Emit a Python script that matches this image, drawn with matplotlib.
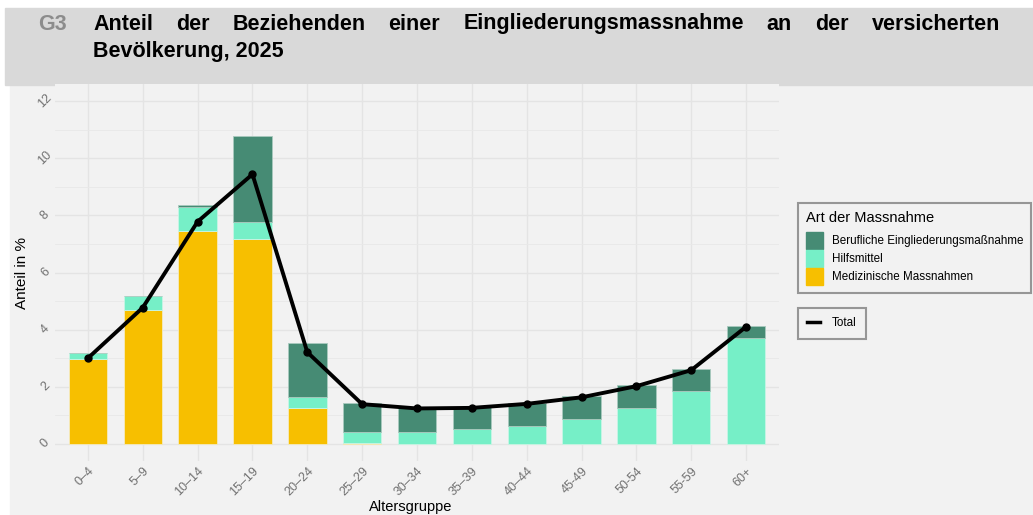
import matplotlib.pyplot as plt
import matplotlib.patches as mpatches
from matplotlib.lines import Line2D
import numpy as np

# Daten
altersgruppen = ['0–4', '5–9', '10–14', '15–19', '20–24', '25–29', '30–34',
                 '35–39', '40–44', '45-49', '50-54', '55-59', '60+']
medizinisch = [2.98, 4.68, 7.45, 7.16, 1.25, 0.02, 0.0, 0.0, 0.0, 0.0, 0.0, 0.0, 0.0]
hilfsmittel = [0.19, 0.51, 0.85, 0.61, 0.39, 0.39, 0.43, 0.51, 0.63, 0.86, 1.25, 1.85, 3.70]
beruflich = [0.0, 0.0, 0.05, 3.01, 1.90, 1.01, 0.82, 0.77, 0.79, 0.82, 0.80, 0.76, 0.43]
total = [3.00, 4.77, 7.78, 9.44, 3.21, 1.39, 1.24, 1.26, 1.40, 1.63, 2.02, 2.58, 4.10]

legend_titel = 'Art der Massnahme'
serien_namen = ['Berufliche Eingliederungsmaßnahme', 'Hilfsmittel', 'Medizinische Massnahmen']
farben = {'beruflich': '#468B74', 'hilfsmittel': '#76EFC7', 'medizinisch': '#F7BF00'}

titel_z1 = 'Anteil der Beziehenden einer Eingliederungsmassnahme an der versicherten'
titel_z2 = 'Bevölkerung, 2025'

W, H = 1033, 515
fig = plt.figure(figsize=(W / 100, H / 100), dpi=100, facecolor='white')

def px(x, y):
    # Pixel (von oben links) -> Figurkoordinaten
    return x / W, 1 - y / H

# Hintergründe
fig.patches.append(mpatches.Rectangle(px(10, 515), (W - 10) / W, (515 - 85) / H,
                                      transform=fig.transFigure, color='#F2F2F2', zorder=-10))
fig.patches.append(mpatches.Rectangle(px(5, 85), (W - 5) / W, (85 - 8) / H,
                                      transform=fig.transFigure, color='#D9D9D9', zorder=-10))

titel_font = 'Liberation Sans'
fs_titel = 15.5

fig.text(*px(38, 24), 'G3', fontsize=fs_titel, fontweight='bold', color='#8C8C8C',
         family=titel_font, va='center', ha='left')

# erste Titelzeile im Blocksatz
renderer = fig.canvas.get_renderer()
woerter = titel_z1.split(' ')
x_links, x_rechts = 93, 1000
texte = [fig.text(0, 0, w, fontsize=fs_titel, fontweight='bold', family=titel_font,
                  va='center', ha='left') for w in woerter]
breiten = [t.get_window_extent(renderer).width for t in texte]
luecke = (x_rechts - x_links - sum(breiten)) / (len(woerter) - 1)
x = x_links
for t, b in zip(texte, breiten):
    t.set_position(px(x, 24))
    x += b + luecke
fig.text(*px(93, 52), titel_z2, fontsize=fs_titel, fontweight='bold', family=titel_font,
         va='center', ha='left')

# Achsen
ax_l, ax_r, ax_t, ax_b = 55, 779, 84, 461
ax = fig.add_axes([ax_l / W, 1 - ax_b / H, (ax_r - ax_l) / W, (ax_b - ax_t) / H])
ax.set_facecolor('#F2F2F2')
for s in ax.spines.values():
    s.set_visible(False)

xpos = np.arange(len(altersgruppen))
breite = 0.7
unten2 = np.array(medizinisch) + np.array(hilfsmittel)
ax.bar(xpos, medizinisch, breite, color=farben['medizinisch'], edgecolor='#F5EBC0',
       linewidth=0.6, zorder=2)
ax.bar(xpos, hilfsmittel, breite, bottom=medizinisch, color=farben['hilfsmittel'],
       edgecolor='#C8F5E6', linewidth=0.6, zorder=2)
ax.bar(xpos, beruflich, breite, bottom=unten2, color=farben['beruflich'],
       edgecolor='#A9C9BE', linewidth=0.6, zorder=2)
ax.plot(xpos, total, color='black', linewidth=2.8, marker='o', markersize=5, zorder=3)

ax.set_xlim(-0.6, len(altersgruppen) - 0.4)
ax.set_ylim(-0.6, 12.6)
ax.set_yticks(np.arange(0, 13, 2))
ax.set_yticks(np.arange(1, 12, 2), minor=True)
ax.grid(True, which='major', color='#E4E4E4', linewidth=1.0, zorder=0)
ax.grid(True, which='minor', axis='y', color='#E8E8E8', linewidth=0.6, zorder=0)
ax.set_axisbelow(True)
ax.tick_params(which='both', length=0)
ax.set_xticks(xpos)
ax.set_xticklabels(altersgruppen, rotation=45, ha='right', va='top',
                   rotation_mode='anchor', color='#707070', fontsize=9,
                   family='Liberation Sans')
ax.tick_params(axis='x', pad=3)
for lab in ax.get_yticklabels():
    lab.set_rotation(45)
    lab.set_color('#707070')
    lab.set_fontsize(9)
    lab.set_family('Liberation Sans')
    lab.set_ha('center')
    lab.set_va('center')
ax.tick_params(axis='y', pad=7)

ax.set_xlabel('Altersgruppe', fontsize=10.5, family='Liberation Sans', va='center')
ax.xaxis.set_label_coords((411 - ax_l) / (ax_r - ax_l), -(507 - ax_b) / (ax_b - ax_t))
ax.set_ylabel('Anteil in %', fontsize=11, family='Liberation Sans', va='center')
ax.yaxis.set_label_coords(-(ax_l - 22) / (ax_r - ax_l), (ax_b - 273) / (ax_b - ax_t))

# Legenden
handles = [mpatches.Patch(color=farben['beruflich']),
           mpatches.Patch(color=farben['hilfsmittel']),
           mpatches.Patch(color=farben['medizinisch'])]
leg1 = fig.legend(handles, serien_namen, title=legend_titel, loc='upper left',
                  bbox_to_anchor=px(798, 203), frameon=True, fancybox=False,
                  prop={'family': 'Liberation Sans', 'size': 8.4},
                  title_fontproperties={'family': 'Liberation Sans', 'size': 10.5},
                  handlelength=1.45, handleheight=1.9, handletextpad=0.8,
                  labelspacing=0.08, borderpad=0.65, borderaxespad=0, alignment='left')
leg1._legend_box.sep = 5
leg1.get_frame().set_edgecolor('#7F7F7F')
leg1.get_frame().set_linewidth(1.5)
leg1.get_frame().set_facecolor('#F2F2F2')

leg2 = fig.legend([Line2D([0], [0], color='black', linewidth=2.5)], ['Total'],
                  loc='upper left', bbox_to_anchor=px(798, 308), frameon=True,
                  fancybox=False, prop={'family': 'Liberation Sans', 'size': 8.4},
                  handlelength=1.1, handletextpad=1.0, borderpad=0.8, borderaxespad=0)
leg2.get_frame().set_edgecolor('#7F7F7F')
leg2.get_frame().set_linewidth(1.5)
leg2.get_frame().set_facecolor('#F2F2F2')

fig.savefig('out.png', dpi=100, facecolor=fig.get_facecolor())
